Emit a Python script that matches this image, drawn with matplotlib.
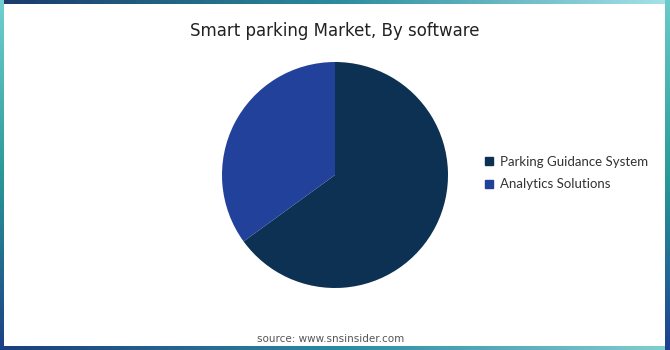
import numpy as np
import matplotlib.pyplot as plt
from matplotlib.colors import LinearSegmentedColormap
from matplotlib.lines import Line2D
from matplotlib.patches import Rectangle

# Data
segments = ['Parking Guidance System', 'Analytics Solutions']
shares = [65, 35]
colors = ['#0c3152', '#22419a']

title = 'Smart parking Market, By software'
source = 'source: www.snsinsider.com'

W, H = 670, 350
fig = plt.figure(figsize=(W / 100, H / 100), dpi=100)

# Background frame with gradient strips
bg = fig.add_axes([0, 0, 1, 1])
bg.set_xlim(0, W)
bg.set_ylim(H, 0)
bg.axis('off')


def strip(x0, x1, y0, y1, cols, horizontal=True):
    cmap = LinearSegmentedColormap.from_list('s', cols)
    grad = np.linspace(0, 1, 256)
    img = grad[None, :] if horizontal else grad[:, None]
    bg.imshow(img, cmap=cmap, extent=(x0, x1, y1, y0), aspect='auto',
              interpolation='bilinear')


strip(0, W, 0, 4, ['#1b3a6c', '#2a8c9c', '#a6e2ea'])
strip(0, W, 346, H, ['#1d3d80', '#2a8aa0', '#7fd0d0'])
strip(0, 4, 0, H, ['#72d0d0', '#2a9898', '#1d3f85'], horizontal=False)
strip(665, W, 0, H, ['#6ccaca', '#2a9a9a', '#1e4090'], horizontal=False)
bg.add_patch(Rectangle((4, 4), 661, 342, facecolor='white', edgecolor='none'))
bg.set_xlim(0, W)
bg.set_ylim(H, 0)

# Pie
ax = fig.add_axes([222 / W, 62 / H, 226 / W, 226 / H])
ax.pie(shares, colors=colors, startangle=90, counterclock=False,
       wedgeprops={'linewidth': 0})
ax.set_xlim(-1, 1)
ax.set_ylim(-1, 1)
ax.set_aspect('equal')

fig.text(0.5, 1 - 31 / H, title, ha='center', va='center',
         fontsize=12, family='DejaVu Sans', color='#222222')

handles = [Line2D([], [], marker='s', linestyle='none', markersize=6,
                  markerfacecolor=c, markeredgecolor=c) for c in colors]
fig.legend(handles, segments, loc='center left',
           bbox_to_anchor=(471 / W, 1 - 173 / H), frameon=False,
           handletextpad=0.3, labelspacing=0.8, handlelength=1.0,
           prop={'family': 'Lato', 'size': 9.5}, labelcolor='#333333')

fig.text(331 / W, 1 - 339 / H, source, ha='center', va='center',
         fontsize=7.5, color='#555555', family='DejaVu Sans')

fig.savefig('out.png', dpi=100)
